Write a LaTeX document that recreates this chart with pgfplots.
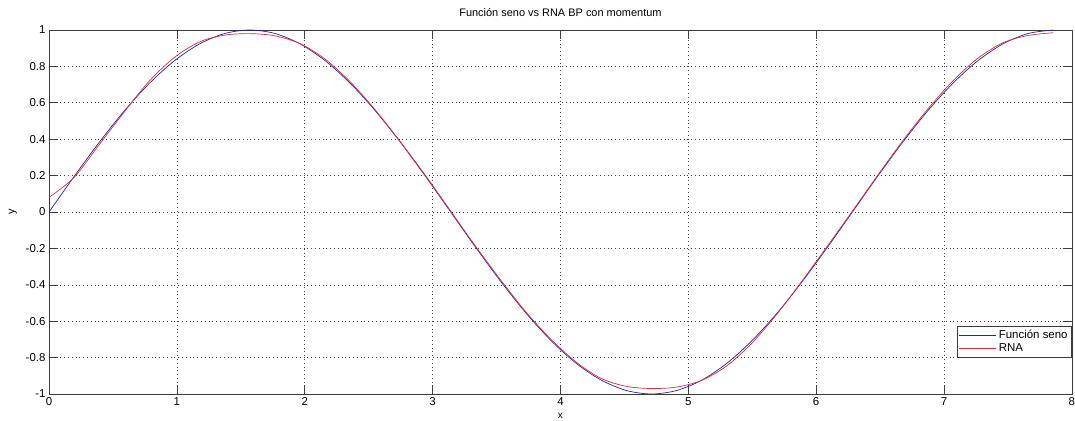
\documentclass[border=0pt]{standalone}
\usepackage{fontspec}
\setmainfont{Liberation Sans}
\usepackage{pgfplots}
\pgfplotsset{compat=1.18}
\definecolor{mblue}{RGB}{35,35,160}
\definecolor{mred}{RGB}{215,45,60}
\definecolor{axgray}{RGB}{60,60,60}

\pgfplotstableread{
x sen rna
0.0000 0.0000 0.080
0.1963 0.1951 0.190
0.3927 0.3827 0.370
0.5890 0.5556 0.550
0.7854 0.7071 0.720
0.9817 0.8315 0.850
1.1781 0.9239 0.935
1.3744 0.9808 0.972
1.5708 1.0000 0.980
1.7671 0.9808 0.968
1.9635 0.9239 0.925
2.1598 0.8315 0.840
2.3562 0.7071 0.715
2.5525 0.5556 0.560
2.7489 0.3827 0.385
2.9452 0.1951 0.200
3.1416 0.0000 0.005
3.3379 -0.1951 -0.190
3.5343 -0.3827 -0.375
3.7306 -0.5556 -0.550
3.9270 -0.7071 -0.700
4.1233 -0.8315 -0.825
4.3197 -0.9239 -0.915
4.5160 -0.9808 -0.958
4.7124 -1.0000 -0.970
4.9087 -0.9808 -0.962
5.1051 -0.9239 -0.925
5.3014 -0.8315 -0.845
5.4978 -0.7071 -0.720
5.6941 -0.5556 -0.560
5.8905 -0.3827 -0.378
6.0868 -0.1951 -0.188
6.2832 0.0000 0.005
6.4795 0.1951 0.200
6.6759 0.3827 0.390
6.8722 0.5556 0.565
7.0686 0.7071 0.720
7.2649 0.8315 0.845
7.4613 0.9239 0.930
7.6576 0.9808 0.970
7.8540 1.0000 0.985
}\datos

\begin{document}
\begin{tikzpicture}
\useasboundingbox (-49bp,-27bp) rectangle (1026bp,394bp);
\begin{axis}[
scale only axis,
width=1023bp, height=364bp,
xmin=0, xmax=8, ymin=-1, ymax=1,
xtick={0,1,...,8},
ytick={-1,-0.8,-0.6,-0.4,-0.2,0,0.2,0.4,0.6,0.8,1},
yticklabel style={/pgf/number format/fixed, /pgf/number format/precision=1},
/pgf/number format/assume math mode=true,
tick label style={font=\fontsize{11.5}{13}\selectfont},
tick align=inside,
tick pos=both,
major tick length=9bp,
every tick/.style={axgray, line width=0.6pt},
axis line style={axgray, line width=0.6pt},
grid=major,
grid style={black!75, dash pattern=on 0.8bp off 3bp, line width=0.6pt},
title={Función seno vs RNA BP con momentum},
title style={font=\fontsize{11}{12}\selectfont, yshift=4bp},
xlabel={x}, ylabel={y},
xlabel style={font=\fontsize{10}{11}\selectfont, yshift=-1bp},
ylabel style={font=\fontsize{11}{12}\selectfont, yshift=2bp},
legend style={at={(1,0.1)}, anchor=south east, font=\fontsize{11.5}{13}\selectfont,
  draw=axgray, line width=0.6pt, inner sep=2bp, row sep=0bp},
legend cell align=left,
legend image code/.code={\draw[#1, line width=0.7pt] (0bp,0bp) -- (37bp,0bp);},
]
\addplot[mblue, line width=0.7pt, smooth] table[x=x, y=sen] {\datos};
\addplot[mred, line width=0.7pt, smooth] table[x=x, y=rna] {\datos};
\legend{Función seno, RNA}
\end{axis}
\end{tikzpicture}
\end{document}
